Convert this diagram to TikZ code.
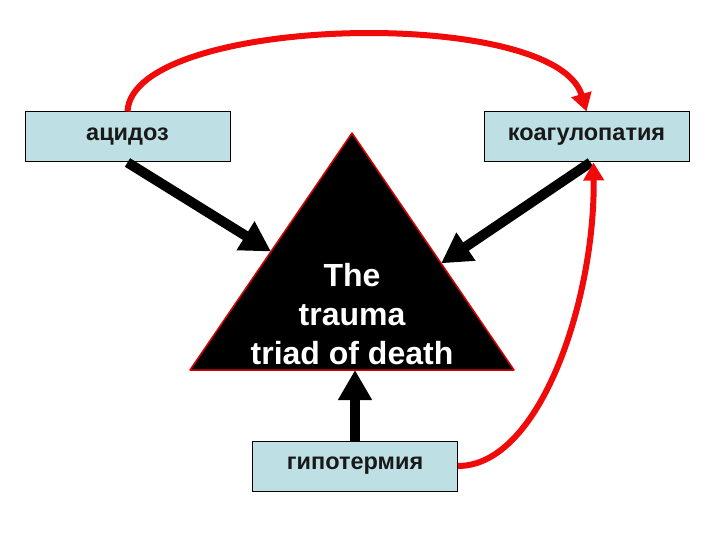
\documentclass[tikz,border=0pt]{standalone}
\usepackage{fontspec}
\setmainfont{Liberation Sans}
\usetikzlibrary{arrows.meta,calc}

\definecolor{boxblue}{RGB}{190,223,227}
\definecolor{arcred}{RGB}{240,10,10}

\begin{document}
\begin{tikzpicture}[x=1pt,y=-1pt,
    box/.style={draw=black,line width=1pt,fill=boxblue,minimum width=205pt,
      minimum height=50pt,inner sep=0pt,font=\fontsize{23.5}{27}\selectfont\bfseries,text=black!90},
    blackarr/.style={line width=10pt,-{Triangle[length=30pt,width=32pt]}},
    redarr/.style={arcred,line width=6pt,-{Triangle[length=18pt,width=20pt]}}]
  \useasboundingbox (0,0) rectangle (720,540);

  % the triangle
  \coordinate (apex) at (352,133);
  \coordinate (baseL) at (190,370);
  \coordinate (baseR) at (514,370);
  \fill[black] (apex) -- (baseL) -- (baseR) -- cycle;
  \draw[red!85!black,line width=1.5pt,line join=round] (apex) -- (baseL) -- (baseR) -- cycle;
  \node[text=white,align=center,font=\fontsize{32}{39}\selectfont\bfseries] (triad)
    at (352,314) {The\\trauma\\triad of death};

  \node[box] (acid) at (127.5,137) {ацидоз};
  \node[box] (coag) at (586.5,137) {коагулопатия};
  \node[box] (hypo) at (355,466) {гипотермия};

  \draw[blackarr] (acid.south) -- ($(apex)!0.5!(baseL)$);
  \draw[blackarr] ([xshift=4pt]coag.south) -- ($(apex)!0.55!(baseR)$);
  \draw[blackarr] (hypo.north) -- (hypo.north |- baseL);

  \draw[redarr] (acid.north) .. controls (132,15) and (555,5) .. (coag.north);
  \draw[redarr] (hypo.east) .. controls (540,466) and (595,300) .. ([xshift=7pt]coag.south);
\end{tikzpicture}
\end{document}
